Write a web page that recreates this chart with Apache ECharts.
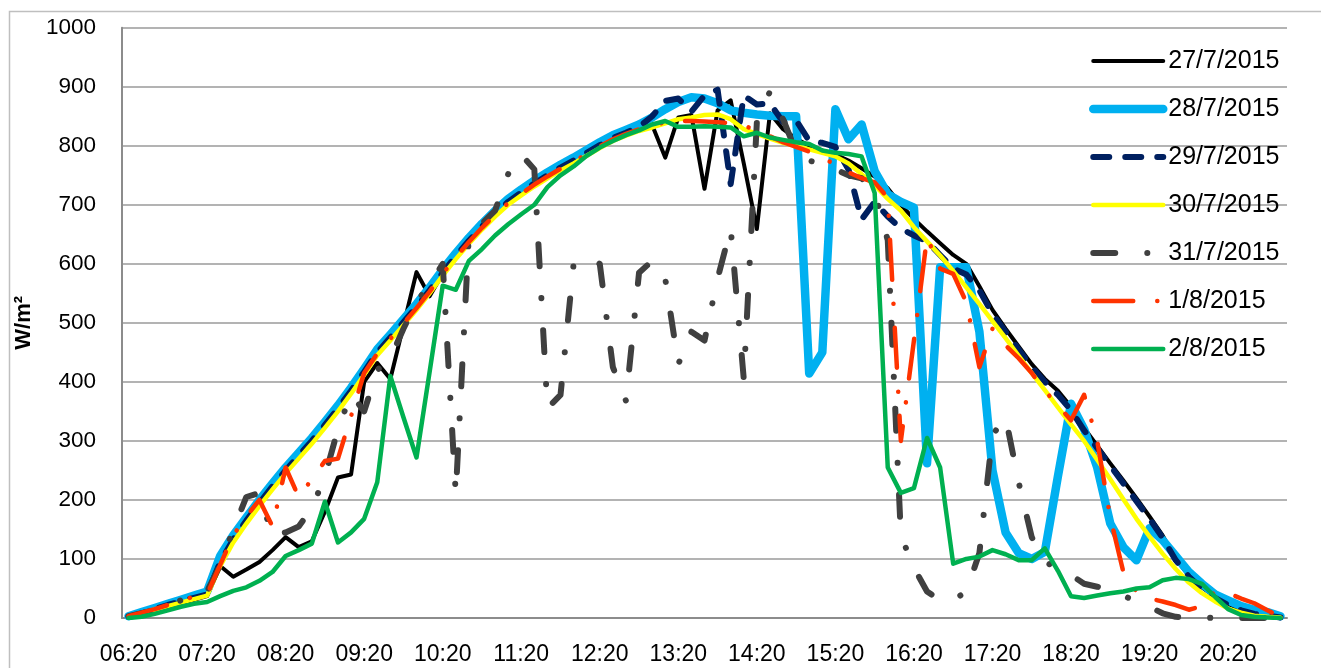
<!DOCTYPE html>
<html>
<head>
<meta charset="utf-8">
<script src="https://cdn.jsdelivr.net/npm/echarts@6/dist/echarts.min.js"></script>
<style>
html,body{margin:0;padding:0;background:#fff;}
#chart{width:1321px;height:668px;}
</style>
</head>
<body>
<div id="chart"></div>
<script>
var times = ["06:20","06:30","06:40","06:50","07:00","07:10",
"07:20","07:30","07:40","07:50","08:00","08:10",
"08:20","08:30","08:40","08:50","09:00","09:10",
"09:20","09:30","09:40","09:50","10:00","10:10",
"10:20","10:30","10:40","10:50","11:00","11:10",
"11:20","11:30","11:40","11:50","12:00","12:10",
"12:20","12:30","12:40","12:50","13:00","13:10",
"13:20","13:30","13:40","13:50","14:00","14:10",
"14:20","14:30","14:40","14:50","15:00","15:10",
"15:20","15:30","15:40","15:50","16:00","16:10",
"16:20","16:30","16:40","16:50","17:00","17:10",
"17:20","17:30","17:40","17:50","18:00","18:10",
"18:20","18:30","18:40","18:50","19:00","19:10",
"19:20","19:30","19:40","19:50","20:00","20:10",
"20:20","20:30","20:40","20:50","21:00"];

var seriesNames = ["27/7/2015","28/7/2015","29/7/2015","30/7/2015","31/7/2015","1/8/2015","2/8/2015"];

var d27 = [2,7,13,19,25,31,37,88,70,82,
95,115,137,120,130,180,238,243,400,432,
405,495,586,545,583,611,637,661,683,703,
720,735,749,762,774,787,799,811,820,830,
835,780,848,852,727,860,877,770,659,855,
828,812,800,792,785,775,762,748,728,700,
676,655,635,615,600,562,522,490,460,430,
405,385,358,322,292,262,233,203,172,140,
100,72,52,36,24,14,8,4,1];

var d28 = [3,10,17,24,31,38,45,105,140,170,
200,228,255,280,305,332,360,390,422,455,
480,506,532,560,590,618,644,668,690,710,
726,741,755,768,780,793,806,818,827,836,
848,862,874,882,880,872,860,856,853,851,
850,850,414,450,862,811,836,757,718,705,
695,262,594,594,594,485,250,145,110,100,
112,240,363,320,255,160,120,98,152,132,
105,78,58,40,30,20,14,10,3];

var d29 = [2,8,15,22,28,34,40,95,133,165,
195,223,250,275,300,327,355,385,417,450,
475,501,527,555,585,613,639,663,685,705,
721,736,750,763,775,788,801,813,822,832,
850,876,880,858,885,895,735,885,870,872,
840,843,808,805,798,760,675,705,680,660,
648,638,615,592,582,555,515,485,455,425,
400,378,352,318,288,258,228,198,168,136,
98,70,50,34,22,13,7,4,1];

var d30 = [2,8,14,20,26,32,38,88,128,160,
190,218,245,270,295,322,350,380,412,445,
470,496,522,550,580,608,634,658,680,700,
716,731,745,758,770,783,796,808,817,825,
831,838,845,848,852,853,845,828,820,812,
805,800,794,788,782,770,752,733,710,690,
662,638,614,588,560,532,503,474,444,415,
386,357,328,300,268,235,201,168,138,109,
83,60,42,28,16,9,4,2,1];

var d31 = [3,8,14,21,30,42,45,90,150,205,
212,137,145,155,186,240,320,380,350,420,
440,490,535,565,600,210,650,668,690,752,
785,760,355,378,600,612,600,425,368,585,
605,575,430,485,470,575,660,405,840,892,
845,790,775,768,760,750,745,720,640,140,
85,45,30,30,45,110,310,340,230,137,
95,84,73,58,53,48,38,28,19,8,
2,1,1,0,0,0,0,0,0];

var d01 = [3,9,15,22,30,36,40,90,140,172,
200,155,255,205,235,266,270,342,415,448,
473,499,525,553,583,611,637,661,683,703,
719,734,748,761,773,786,799,811,820,828,
834,840,842,842,841,840,838,834,826,816,
806,798,790,780,768,755,745,738,712,300,
470,645,592,583,535,425,490,462,440,415,
385,360,335,378,300,170,78,45,33,28,
22,14,20,45,42,33,25,13,2];

var d02 = [0,2,7,13,19,24,27,37,46,52,
63,78,105,115,126,197,128,145,168,230,
410,340,272,417,563,556,605,625,648,667,
684,700,730,750,765,783,797,808,818,826,
836,842,832,832,833,832,831,816,822,814,
810,806,803,792,788,786,782,720,255,212,
220,305,255,92,100,104,115,108,98,98,
118,80,37,34,38,42,45,50,52,64,
68,66,58,36,15,5,2,1,0];

var seriesData = [d27, d28, d29, d30, d31, d01, d02];
var colors = ["#000000","#00B0F0","#002060","#FFFF00","#404040","#FF3300","#00B050"];
var widths = [4, 8.5, 6, 4.5, 6, 4.5, 4.5];
var dashes = ["solid","solid",[16,16],"solid",[22,32,0.1,32],[40,24,0.1,24],"solid"];

var series = seriesNames.map(function(name, k){
  return {
    name: name,
    type: "line",
    data: seriesData[k],
    symbol: "none",
    smooth: false,
    lineStyle: {color: colors[k], width: widths[k], type: dashes[k], cap: "round", join: "round"},
    itemStyle: {color: colors[k]},
    emphasis: {disabled: true}
  };
});

var chart = echarts.init(document.getElementById("chart"), null, {renderer: "canvas"});
chart.setOption({
  animation: false,
  backgroundColor: "#ffffff",
  textStyle: {fontFamily: "Liberation Sans"},
  graphic: [{
    type: "rect",
    shape: {x: 9.5, y: 11.5, width: 1400, height: 700},
    style: {fill: "none", stroke: "#bfbfbf", lineWidth: 1.5},
    silent: true
  }],
  grid: {left: 122, right: 34, top: 27.7, bottom: 50, containLabel: false},
  legend: {
    orient: "vertical",
    left: 1089,
    top: 48,
    padding: 0,
    itemWidth: 70,
    itemHeight: 14,
    itemGap: 22,
    selectedMode: false,
    data: seriesNames,
    itemStyle: {opacity: 0},
    lineStyle: {width: "inherit", type: "inherit", cap: "round"},
    textStyle: {fontSize: 25, lineHeight: 26, color: "#000", fontFamily: "Liberation Sans"}
  },
  xAxis: {
    type: "category",
    data: times,
    boundaryGap: true,
    axisLine: {lineStyle: {color: "#8c8c8c", width: 2}},
    axisTick: {show: false},
    axisLabel: {interval: 5, fontSize: 23, color: "#000", margin: 25, fontFamily: "Liberation Sans"},
    splitLine: {show: false}
  },
  yAxis: {
    type: "value",
    min: 0,
    max: 1000,
    interval: 100,
    name: "W/m²",
    nameLocation: "middle",
    nameGap: 58,
    nameTextStyle: {fontSize: 22, fontWeight: "bold", color: "#000", fontFamily: "Liberation Sans"},
    axisLine: {show: true, lineStyle: {color: "#8c8c8c", width: 2}},
    axisTick: {show: false},
    axisLabel: {fontSize: 22.5, color: "#000", margin: 26, fontFamily: "Liberation Sans",
      formatter: function(v){ return String(v); }},
    splitLine: {lineStyle: {color: "#9a9a9a", width: 1.7}}
  },
  series: series
});
</script>
</body>
</html>
